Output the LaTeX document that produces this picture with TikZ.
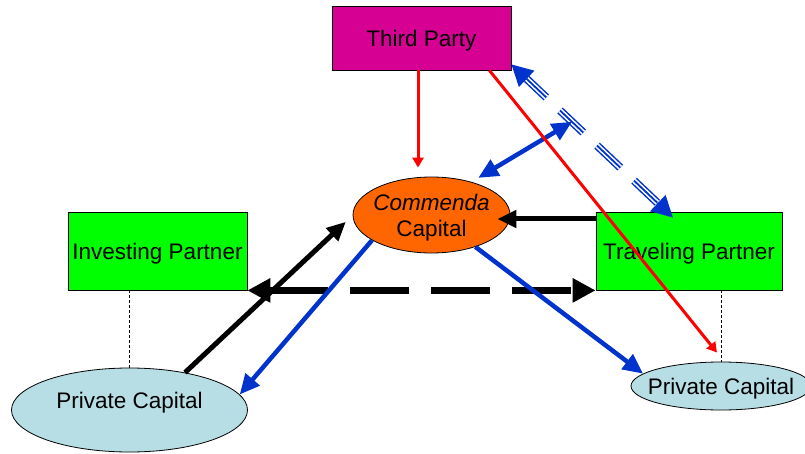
\documentclass[tikz,border=0pt]{standalone}
\usepackage{fontspec}
\setmainfont{Liberation Sans}
\usetikzlibrary{arrows.meta,shapes.geometric,calc}

\definecolor{partymagenta}{RGB}{214,0,147}
\definecolor{partnergreen}{RGB}{0,255,0}
\definecolor{commendaorange}{RGB}{255,102,0}
\definecolor{privateblue}{RGB}{183,222,228}
\definecolor{flowblue}{RGB}{0,51,204}

\tikzset{
  box/.style={draw=black, line width=0.8pt, inner sep=0pt, text depth=0pt},
  pool/.style={box, ellipse},
  tie/.style={draw=black, line width=0.8pt, dash pattern=on 3pt off 2pt},
  redflow/.style={draw=red, line width=3pt, -{Triangle[length=10pt,width=11pt]}},
  blueflow/.style={draw=flowblue, line width=4.5pt, -{Triangle[length=20pt,width=18pt]}},
  blackflow/.style={draw=black, line width=5pt, -{Triangle[length=19pt,width=17pt]}},
  dashflow/.style={draw=black, line width=7pt, dash pattern=on 59pt off 22pt,
    {Triangle[length=23pt,width=23pt]}-{Triangle[length=23pt,width=23pt]}},
  tripleflow/.style={draw=flowblue, line width=8pt, dash pattern=on 32pt off 19pt, dash phase=5pt,
    shorten <=21pt, shorten >=21pt,
    postaction={draw=white, line width=5pt},
    postaction={draw=flowblue, line width=1.8pt}},
  triplehead/.style={draw=flowblue, line width=2pt, -{Triangle[length=21pt,width=22pt]}}
}

\begin{document}
\begin{tikzpicture}[x=1pt, y=-1pt, font=\fontsize{22.5}{26}\selectfont]
  \useasboundingbox (0,0) rectangle (805,454);

  % parties
  \node[box, fill=partymagenta, minimum width=179pt, minimum height=64pt] (tp) at (421.5,38) {Third Party};
  \node[box, fill=partnergreen, minimum width=179pt, minimum height=78pt] (inv) at (157.5,251) {Investing Partner};
  \node[box, fill=partnergreen, minimum width=186pt, minimum height=78pt] (trav) at (689,251) {Traveling Partner};

  % capital pools
  \node[pool, fill=commendaorange, minimum width=157pt, minimum height=76pt,
    label={[align=center, yshift=-3pt]center:\textit{Commenda}\\Capital}] (cap) at (431.5,215) {};
  \node[pool, fill=privateblue, minimum width=236pt, minimum height=84pt,
    label={[yshift=10pt, text depth=0pt]center:Private Capital}] (pcl) at (129.5,410) {};
  \node[pool, fill=privateblue, minimum width=180pt, minimum height=48pt,
    label={[text depth=0pt]center:Private Capital}] (pcr) at (721,386) {};

  % partner to own capital
  \foreach \p/\c in {inv/pcl, trav/pcr}
    \draw[tie] (\p.south -| \c.north) -- (\c.north);

  % end points of the third party claim
  \coordinate (tpend) at ([yshift=6pt]tp.south east);
  \coordinate (travend) at ([xshift=-16pt,yshift=-6pt]trav.north);
  \coordinate (tap) at ($(tpend)!0.375!(travend)$);

  % flows
  \draw[dashflow] (inv.south east) -- (trav.south west);
  \draw[blackflow] ([yshift=32pt]trav.west) -- ([xshift=-13pt,yshift=-4pt]cap.east);
  \draw[blackflow] (pcl.34) -- ([xshift=-8pt]cap.185);
  \draw[blueflow] (cap.203) -- (pcl.8);
  \draw[blueflow] (cap.-36) -- (pcr.171);

  % third party claim
  \draw[tripleflow] (tpend) -- (travend);
  \foreach \a/\b in {tpend/travend, travend/tpend}
    \draw[triplehead] ($(\a)!21pt!(\b)$) -- (\a);
  \draw[blueflow, {Triangle[length=20pt,width=18pt]}-{Triangle[length=20pt,width=18pt]}]
    ([xshift=-9pt,yshift=10pt]cap.north east) -- (tap);

  % third party funding
  \draw[redflow] ([xshift=-3.5pt]tp.south) -- ([xshift=-13.5pt,yshift=9pt]cap.north);
  \draw[redflow] ([xshift=-22pt]tp.south east) -- ([xshift=-4pt,yshift=9pt]pcr.north);
\end{tikzpicture}
\end{document}
